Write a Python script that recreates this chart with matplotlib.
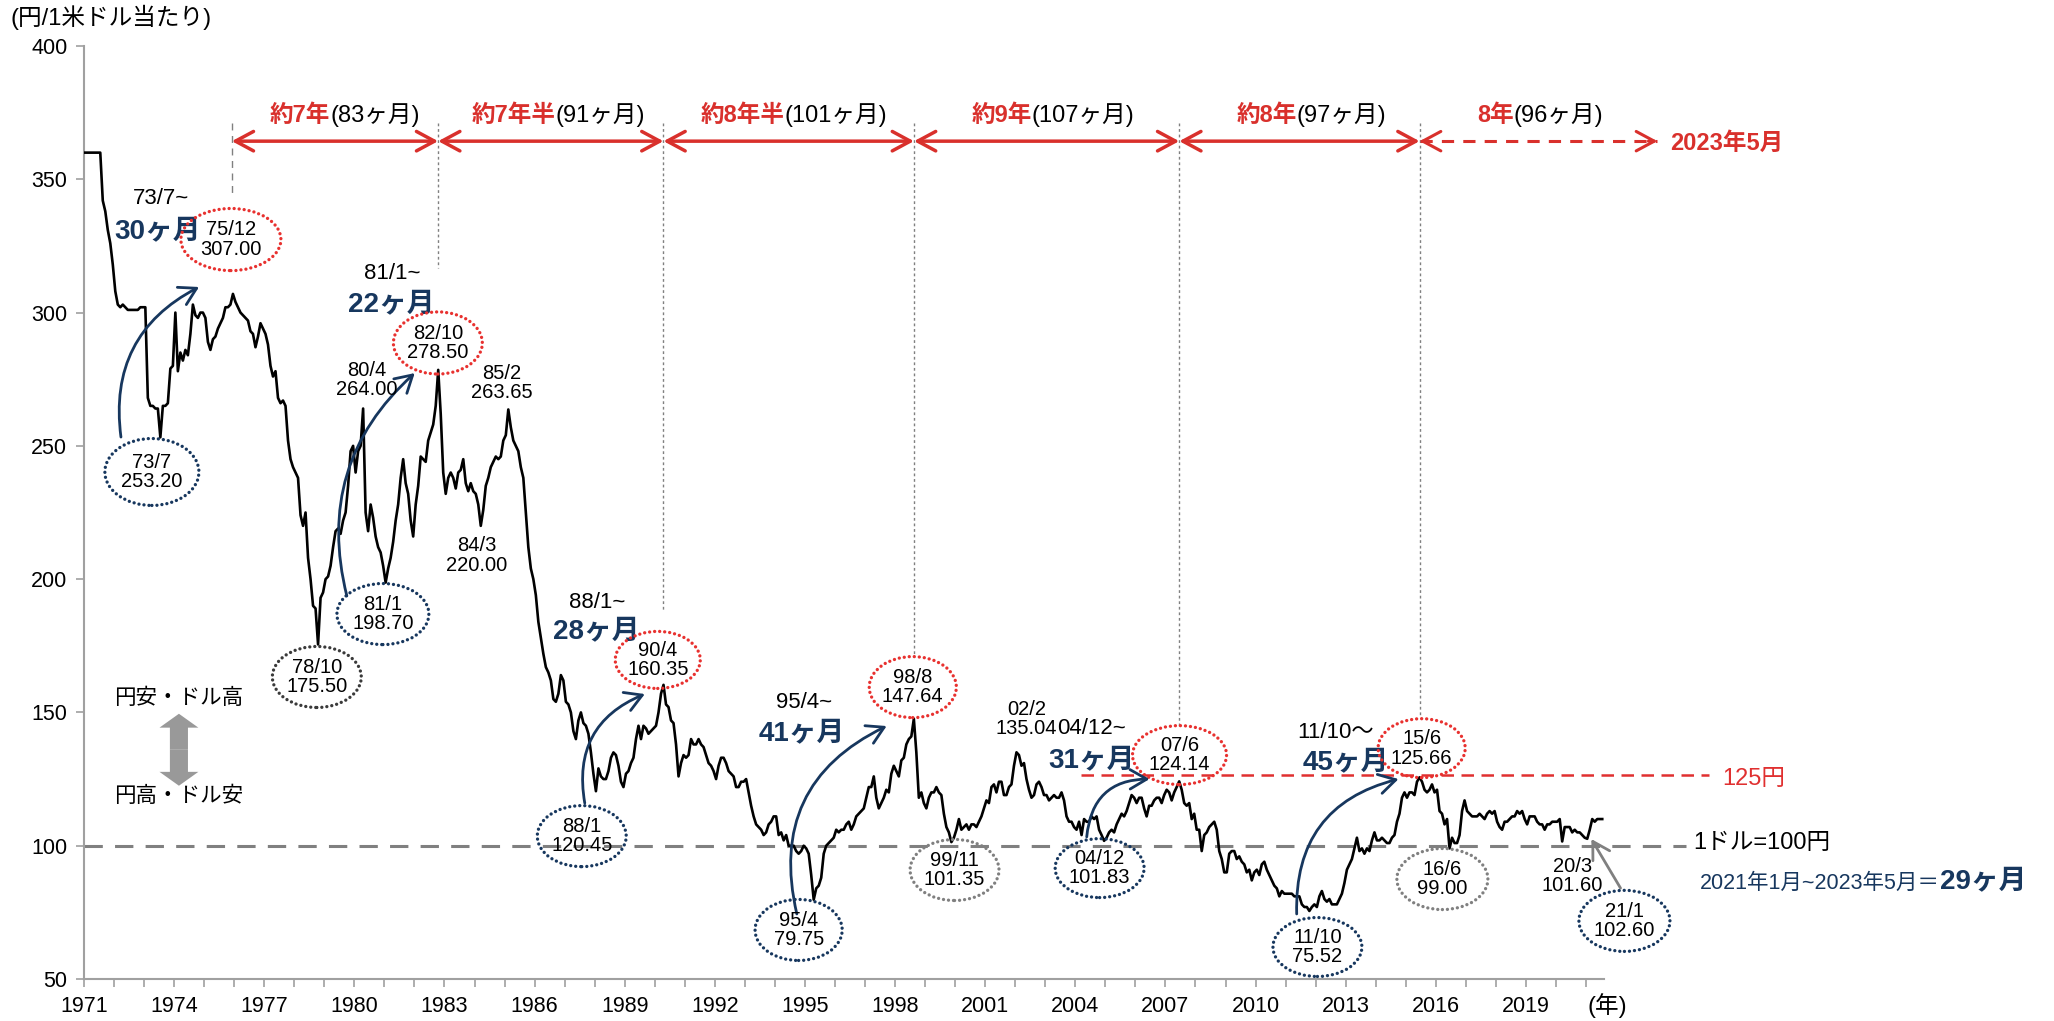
import numpy as np
import matplotlib
matplotlib.use("Agg")
import matplotlib.pyplot as plt
from matplotlib.patches import Ellipse, FancyArrowPatch

plt.rcParams['font.family'] = ['Liberation Sans', 'Noto Sans CJK JP']

# 月次ドル円レート 1971/1 - 2021/7 (チャートから読み取り)
start_year = 1971
usdjpy = [
    360, 360, 360, 360, 360, 360, 360, 342, 338, 331, 326, 318,    # 1971
    308, 303, 302, 303, 302, 301, 301, 301, 301, 301, 302, 302,    # 1972
    302, 268, 265, 265, 264, 264, 253.2, 265, 265, 266, 279, 280,  # 1973
    300, 278, 285, 282, 286, 284, 292, 303, 299, 298, 300, 300,    # 1974
    298, 289, 286, 290, 291, 294, 296, 298, 302, 302, 303, 307,    # 1975
    304, 302, 300, 299, 298, 297, 293, 292, 287, 291, 296, 294,    # 1976
    292, 288, 280, 276, 278, 268, 266, 267, 265, 252, 245, 242,    # 1977
    240, 238, 224, 220, 225, 208, 200, 190, 189, 175.5, 193, 195,  # 1978
    200, 201, 205, 212, 218, 219, 217, 222, 225, 235, 248, 250,    # 1979
    240, 248, 250, 264, 225, 218, 228, 223, 216, 212, 210, 205,    # 1980
    198.7, 204, 208, 214, 222, 228, 238, 245, 236, 232, 222, 216,  # 1981
    228, 235, 246, 245, 244, 252, 255, 258, 265, 278.5, 262, 240,  # 1982
    232, 238, 240, 238, 234, 240, 241, 245, 236, 233, 236, 233,    # 1983
    232, 228, 220, 226, 235, 238, 242, 244, 246, 245, 246, 252,    # 1984
    254, 263.65, 257, 252, 250, 248, 242, 238, 225, 212, 204, 200, # 1985
    194, 184, 178, 172, 167, 165, 162, 155, 154, 157, 164, 162,    # 1986
    154, 153, 150, 143, 140, 147, 150, 146, 145, 142, 135, 127,    # 1987
    120.45, 129, 126, 125, 125, 128, 133, 135, 134, 130, 124, 122, # 1988
    127, 128, 131, 133, 140, 145, 140, 145, 144, 142, 143, 144,    # 1989
    145, 150, 157, 160.35, 153, 152, 147, 146, 138, 126, 131, 134, # 1990
    133, 134, 140, 138, 138, 140, 138, 137, 134, 131, 130, 128,    # 1991
    125, 130, 133, 133, 131, 128, 127, 126, 122, 122, 124, 124,    # 1992
    125, 120, 115, 111, 108, 107, 106, 104, 105, 108, 109, 111,    # 1993
    111, 104, 105, 102, 104, 100, 100, 100, 98, 97, 98, 100,       # 1994
    99, 97, 89, 79.75, 84, 85, 88, 97, 100, 101, 102, 103,         # 1995
    106, 105, 106, 106, 108, 109, 106, 108, 111, 112, 113, 114,    # 1996
    118, 122, 122, 126, 118, 114, 116, 118, 121, 120, 127, 130,    # 1997
    128, 126, 132, 133, 138, 140, 141, 147.64, 135, 118, 120, 116, # 1998
    114, 118, 120, 120, 122, 120, 119, 112, 107, 105, 101.35, 103, # 1999
    106, 110, 106, 107, 108, 106, 108, 108, 107, 109, 111, 114,    # 2000
    117, 116, 122, 123, 120, 124, 124, 119, 119, 122, 123, 130,    # 2001
    135.04, 134, 130, 131, 125, 121, 118, 119, 123, 124, 122, 119, # 2002
    119, 117, 118, 119, 118, 118, 120, 117, 111, 109, 109, 107,    # 2003
    106, 109, 104, 110, 109, 109, 111, 110, 111, 106, 104, 101.83, # 2004
    103, 105, 106, 105, 108, 110, 112, 111, 113, 116, 119, 118,    # 2005
    116, 118, 118, 114, 111, 115, 115, 117, 118, 118, 116, 119,    # 2006
    121, 120, 117, 120, 122, 124.14, 121, 116, 115, 116, 110, 112, # 2007
    106, 106, 98, 104, 105, 107, 108, 109, 106, 98, 95, 90,        # 2008
    90, 97, 98, 98, 95, 96, 94, 93, 90, 91, 87, 90,                # 2009
    91, 89, 93, 94, 91, 89, 87, 85, 84, 81, 83, 82,                # 2010
    82, 82, 82, 81, 81, 81, 78, 77, 77, 75.52, 77, 78,             # 2011
    77, 81, 83, 80, 79, 80, 78, 78, 78, 80, 82, 86,                # 2012
    91, 93, 95, 99, 103, 98, 99, 97, 99, 98, 102, 105,             # 2013
    102, 102, 103, 102, 101, 101, 103, 104, 109, 112, 118, 120,    # 2014
    118, 120, 120, 119, 124, 125.66, 124, 121, 120, 121, 123, 120, # 2015
    121, 113, 112, 108, 110, 99, 103, 101, 101, 104, 113, 117,     # 2016
    113, 112, 111, 111, 111, 112, 111, 110, 112, 113, 112, 113,    # 2017
    109, 107, 106, 109, 109, 110, 111, 111, 113, 112, 113, 110,    # 2018
    108, 111, 111, 111, 109, 108, 108, 106, 108, 108, 109, 109,    # 2019
    109, 110, 101.6, 107, 107, 107, 105, 106, 105, 105, 104, 103,  # 2020
    102.6, 106, 110, 109, 110, 110, 110,                           # 2021
]

# 丸で囲んだ高値・安値
circ_dates = ['73/7', '75/12', '78/10', '81/1', '82/10', '88/1', '90/4', '95/4',
              '98/8', '99/11', '04/12', '07/6', '11/10', '15/6', '16/6', '21/1']
circ_values = [253.20, 307.00, 175.50, 198.70, 278.50, 120.45, 160.35, 79.75,
               147.64, 101.35, 101.83, 124.14, 75.52, 125.66, 99.00, 102.60]
plain_dates = ['80/4', '85/2', '84/3', '02/2', '20/3']
plain_values = [264.00, 263.65, 220.00, 135.04, 101.60]

# 円安局面
rally_starts = ['73/7~', '81/1~', '88/1~', '95/4~', '04/12~', '11/10〜']
rally_months = [30, 22, 28, 41, 31, 45]

# ピーク間の周期
cycle_bounds = [1975.92, 1982.79, 1990.29, 1998.63, 2007.46, 2015.46, 2023.38]
cycle_years = ['約7年', '約7年半', '約8年半', '約9年', '約8年', '8年']
cycle_months = [83, 91, 101, 107, 97, 96]

RED = '#D9302C'
NAVY = '#17375E'
GRAY = '#808080'

fig = plt.figure(figsize=(20.54, 10.21), dpi=100)
ax = fig.add_axes([84 / 2054, 1 - 979 / 1021, (1604 - 84) / 2054, (979 - 46) / 1021])
ax.set_xlim(1971, 2021.6)
ax.set_ylim(50, 400)

x = start_year + (np.arange(len(usdjpy)) + 0.5) / 12
ax.plot(x, usdjpy, color='black', lw=1.9, zorder=3)

# 軸
for s in ['top', 'right']:
    ax.spines[s].set_visible(False)
for s in ['left', 'bottom']:
    ax.spines[s].set_color('#A0A0A0')
    ax.spines[s].set_linewidth(1.5)
ax.tick_params(axis='both', color='#A0A0A0', width=1.2, length=6, labelsize=15.5, pad=6)
ax.set_yticks(range(50, 401, 50))
years = list(range(1971, 2022))
ax.set_xticks(years)
ax.set_xticklabels([str(y) if (y - 1971) % 3 == 0 else '' for y in years])
fig.text(11 / 2054, 1 - 17 / 1021, '(円/1米ドル当たり)', fontsize=17, va='center', ha='left')
fig.text(1607 / 2054, 1 - 1006 / 1021, '(年)', fontsize=17, va='center', ha='center')

# 基準線
ax.plot([1971, 2024.34], [100, 100], color=GRAY, lw=2.2, ls=(0, (6, 4)), clip_on=False, zorder=2)
ax.text(2024.58, 101, '1ドル=100円', fontsize=17, va='center', ha='left')
ax.plot([2004.2, 2025.1], [126.5, 126.5], color='#E03030', lw=1.8, ls=(0, (5, 3)), clip_on=False, zorder=2)
ax.text(2025.54, 125, '125円', fontsize=17, color='#E03030', va='center', ha='left')

# 周期の矢印
vbottoms = [344.8, 316.7, 188, 170.8, 144.5, 148.6]
for i, (xb, yb) in enumerate(zip(cycle_bounds[:-1], vbottoms)):
    ax.plot([xb, xb], [371, yb], color=GRAY, lw=1,
            ls=(0, (5, 4)) if i == 0 else (0, (2, 2)), zorder=1)
splits = [1979.2, 1986.7, 1994.33, 2002.55, 2011.37, 2018.6]
for i in range(6):
    a, b = cycle_bounds[i], cycle_bounds[i + 1]
    if i < 5:
        ax.add_patch(FancyArrowPatch((a, 364.3), (b, 364.3), arrowstyle='<->,head_length=0.65,head_width=0.35',
                                     mutation_scale=20, color=RED, lw=2.5, shrinkA=0, shrinkB=0, clip_on=False))
    else:
        ax.plot([a, b], [364.3, 364.3], color=RED, lw=2.2, ls=(0, (4, 3)), clip_on=False)
        for p, q in [(a, a + 0.3), (b, b - 0.3)]:
            ax.add_patch(FancyArrowPatch((q, 364.3), (p, 364.3), arrowstyle='->,head_length=0.65,head_width=0.35',
                                         mutation_scale=20, color=RED, lw=2.2, shrinkA=0, shrinkB=0, clip_on=False))
    ax.text(splits[i], 374.1, cycle_years[i], color=RED, fontsize=17, fontweight='bold', ha='right', va='center')
    ax.text(splits[i], 374.1, f'({cycle_months[i]}ヶ月)', color='black', fontsize=17, ha='left', va='center')
ax.text(2023.81, 363.6, '2023年5月', color=RED, fontsize=17, fontweight='bold', ha='left', va='center')

# 丸囲みラベル
circ_layout = [
    (1973.26, 240.2, 3.13, 25.1, NAVY),
    (1975.89, 327.4, 3.33, 23.3, '#E8312F'),
    (1978.75, 163.3, 2.96, 22.9, '#3A3A3A'),
    (1980.95, 186.9, 3.06, 22.9, NAVY),
    (1982.78, 288.6, 2.96, 23.3, '#E8312F'),
    (1987.57, 103.6, 2.96, 22.9, NAVY),
    (1990.10, 169.7, 2.83, 21.4, '#E8312F'),
    (1994.79, 68.4, 2.90, 22.9, NAVY),
    (1998.59, 159.5, 2.90, 22.9, '#E8312F'),
    (1999.98, 90.9, 2.96, 22.9, GRAY),
    (2004.81, 91.6, 2.96, 22.1, NAVY),
    (2007.47, 134.0, 3.13, 22.1, '#E8312F'),
    (2012.06, 62.0, 2.96, 22.1, NAVY),
    (2015.53, 136.6, 2.90, 22.1, '#E8312F'),
    (2016.22, 87.5, 3.03, 22.9, GRAY),
    (2022.28, 71.8, 3.03, 22.9, NAVY),
]
for d, v, (cx, cy, w, h, c) in zip(circ_dates, circ_values, circ_layout):
    ax.add_patch(Ellipse((cx, cy), w, h, fill=False, edgecolor=c, lw=2.4,
                         ls=(0, (0.01, 1.5)), capstyle='round', clip_on=False, zorder=4))
    ax.text(cx, cy, f'{d}\n{v:.2f}', fontsize=14.5, ha='center', va='center', linespacing=1.05, zorder=5)

plain_layout = [(1980.42, 274.7), (1984.91, 273.6), (1984.08, 209.0), (2002.38, 147.5), (2020.55, 88.6)]
for d, v, (px, py) in zip(plain_dates, plain_values, plain_layout):
    ax.text(px, py, f'{d}\n{v:.2f}', fontsize=14.5, ha='center', va='center', linespacing=1.05, zorder=5)

# 円安局面の矢印
rally_layout = [
    ((1973.56, 342.9), (1973.46, 330.2), (1972.23, 253.3), (1974.83, 309.6), -0.35),
    ((1981.25, 314.8), (1981.22, 302.8), (1979.75, 193.7), (1982.01, 277.3), -0.3),
    ((1988.07, 191.4), (1988.04, 180.2), (1987.67, 116.0), (1989.67, 156.9), -0.4),
    ((1994.96, 153.9), (1994.89, 141.9), (1994.73, 74.4), (1997.72, 144.9), -0.4),
    ((2004.54, 144.1), (2004.54, 131.8), (2004.38, 103.3), (2006.47, 125.0), -0.45),
    ((2012.66, 142.6), (2013.00, 131.0), (2011.37, 74.4), (2014.76, 125.0), -0.4),
]
for s, m, (p1, p2, a0, a1, rad) in zip(rally_starts, rally_months, rally_layout):
    ax.text(p1[0], p1[1], s, fontsize=16, ha='center', va='center')
    ax.text(p2[0], p2[1], f'{m}ヶ月', fontsize=20, fontweight='bold', color=NAVY, ha='center', va='center')
    ax.add_patch(FancyArrowPatch(a0, a1, connectionstyle=f'arc3,rad={rad}',
                                 arrowstyle='->,head_length=0.6,head_width=0.35', mutation_scale=20,
                                 color=NAVY, lw=2, shrinkA=0, shrinkB=0, zorder=4))

# 21/1 への矢印
ax.add_patch(FancyArrowPatch((2022.15, 84.1), (2021.18, 102.5), arrowstyle='->,head_length=0.6,head_width=0.35',
                             mutation_scale=20, color=GRAY, lw=2, shrinkA=0, shrinkB=0, clip_on=False, zorder=4))
t1 = ax.text(2024.8, 83.8, '2021年1月~2023年5月＝', fontsize=15.5, color=NAVY, ha='left', va='baseline')
ax.annotate('29ヶ月', xy=(1, 83.8), xycoords=(t1, 'data'), fontsize=20, fontweight='bold',
            color=NAVY, ha='left', va='baseline', annotation_clip=False)

# 円安・円高
ax.text(1974.16, 155.4, '円安・ドル高', fontsize=15.5, ha='center', va='center')
ax.text(1974.16, 118.3, '円高・ドル安', fontsize=15.5, ha='center', va='center')
for end in [149.5, 122.5]:
    ax.add_patch(FancyArrowPatch((1974.16, 136), (1974.16, end),
                                 arrowstyle='simple,head_length=10,head_width=28,tail_width=13',
                                 mutation_scale=1, color='#999999', lw=0, shrinkA=0, shrinkB=0))

fig.savefig('out.png', dpi=100)
